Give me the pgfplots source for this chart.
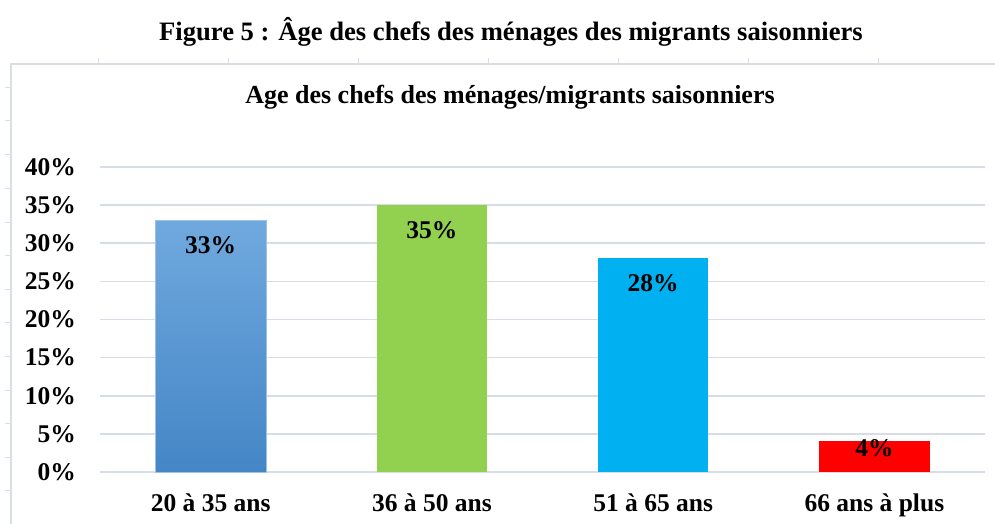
\documentclass[border=0pt]{standalone}
\usepackage{fontspec}
\setmainfont{Liberation Serif}
\usepackage{pgfplots}
\pgfplotsset{compat=1.18}
\definecolor{gridc}{HTML}{D7DDE6}
\definecolor{framec}{HTML}{D9DEE5}
\definecolor{bluetop}{HTML}{70A9DE}
\definecolor{bluebot}{HTML}{4486C6}
\definecolor{greenb}{HTML}{92D050}
\definecolor{cyanb}{HTML}{00B0F0}
\definecolor{redb}{HTML}{FF0000}
\begin{document}
\begin{tikzpicture}[x=1pt,y=1pt]
\useasboundingbox (0,0) rectangle (995,524);
% frame
\draw[framec, line width=1.5pt] (11,-5) -- (11,460) -- (1000,460);
\foreach \yy in {88,121,155,189,223,256,290,323,357,391,424,458,491}
  \draw[framec, line width=1pt] (5,524-\yy) -- (11,524-\yy);
\foreach \xx in {98,228,358,488,618,748,878}
  \draw[framec, line width=1pt] (\xx,460) -- (\xx,466);
% titles
\node[font=\fontsize{26.6}{26.6}\selectfont\bfseries] at (511,492) {Figure 5 : Âge des chefs des ménages des migrants saisonniers};
\node[font=\fontsize{26}{26}\selectfont\bfseries] at (510,427) {Age des chefs des ménages/migrants saisonniers};
\begin{axis}[
  at={(100pt,52pt)}, anchor=south west,
  scale only axis, width=885pt, height=305pt,
  xmin=-0.5, xmax=3.5, ymin=0, ymax=40,
  axis line style={draw=none},
  ymajorgrids, grid style={gridc, line width=1.6pt},
  ytick={0,5,...,40},
  yticklabels={0\%,5\%,10\%,15\%,20\%,25\%,30\%,35\%,40\%},
  xtick={0,1,2,3},
  xticklabels={20 à 35 ans,36 à 50 ans,51 à 65 ans,66 ans à plus},
  major tick length=0pt, tick style={draw=none},
  ticklabel style={inner sep=0pt},
  yticklabel style={font=\fontsize{25.5}{25.5}\selectfont\bfseries, anchor=east, xshift=-24pt},
  xticklabel style={font=\fontsize{25.5}{25.5}\selectfont\bfseries, anchor=base, yshift=-40pt},
  ybar, bar width=0.5,
  /pgf/number format/assume math mode=true,
  nodes near coords={\pgfmathprintnumber{\pgfplotspointmeta}\%},
  point meta=y,
  every node near coord/.append style={font=\fontsize{25.5}{25.5}\selectfont\bfseries, anchor=center, text=black},
  clip=false,
]
\addplot[bar shift=0pt, draw=bluetop!70!white, top color=bluetop, bottom color=bluebot,
  every node near coord/.append style={yshift=-25pt}] coordinates {(0,33)};
\addplot[bar shift=0pt, draw=none, fill=greenb,
  every node near coord/.append style={yshift=-25pt}] coordinates {(1,35)};
\addplot[bar shift=0pt, draw=none, fill=cyanb,
  every node near coord/.append style={yshift=-25pt}] coordinates {(2,28)};
\addplot[bar shift=0pt, draw=none, fill=redb,
  every node near coord/.append style={yshift=-7pt}] coordinates {(3,4)};
\end{axis}
\end{tikzpicture}
\end{document}
